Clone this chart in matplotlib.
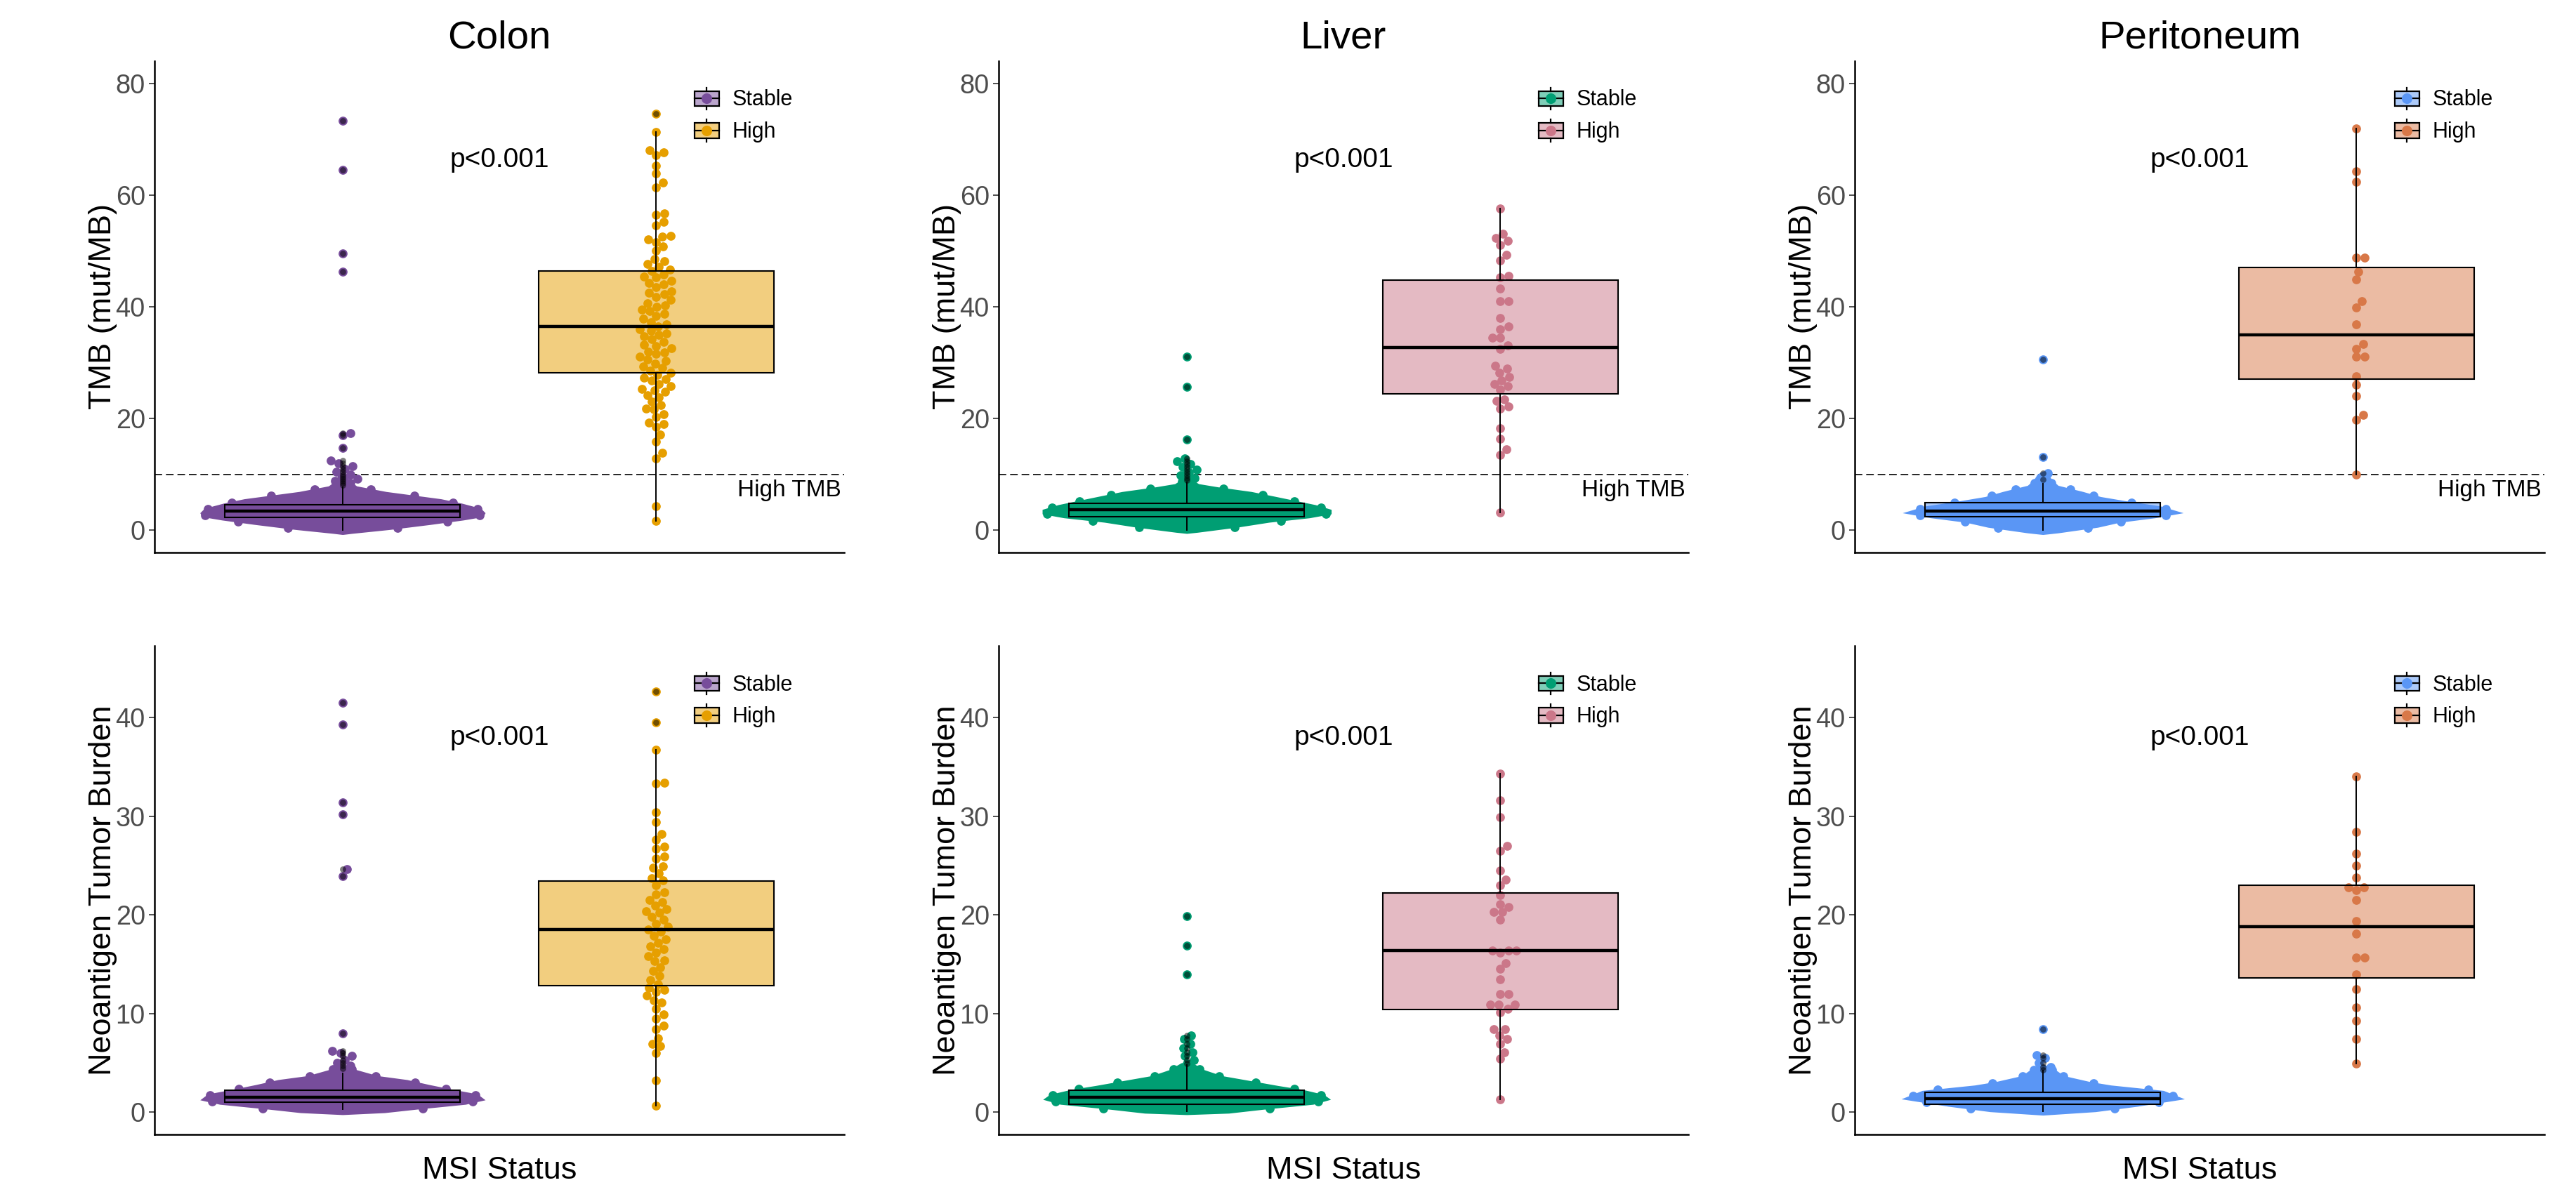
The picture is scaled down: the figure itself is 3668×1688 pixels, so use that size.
import numpy as np
import matplotlib
matplotlib.use("Agg")
import matplotlib.pyplot as plt
from matplotlib.colors import to_rgba
from matplotlib.patches import Patch, Rectangle
from matplotlib.lines import Line2D
from matplotlib.legend_handler import HandlerBase

plt.rcParams['font.family'] = ['Liberation Sans', 'DejaVu Sans']

sites = ['Colon', 'Liver', 'Peritoneum']
groups = ['Stable', 'High']
stable_colors = ['#774D9B', '#009E73', '#5A96F5']
high_colors = ['#E69F00', '#CB7789', '#D87848']

# ---- TMB (mut/MB) ----
# MSI stable: too many patients to read one by one, so the swarm outline is kept
# as value levels + half width (category units), plus box stats and outliers
colon_tmb_stable_levels = [10.3, 10.0, 9.0, 7.9, 6.9, 5.6, 4.8, 3.9, 3.1, 2.4, 1.8, 1.0, 0.1, -0.6, -0.8]
colon_tmb_stable_width = [0, .016, .018, .045, .139, .314, .381, .441, .455, .448, .385, .28, .15, .029, 0]
liver_tmb_stable_levels = [10.9, 10.5, 9.0, 8.3, 7.7, 6.9, 6.0, 5.2, 4.55, 3.7, 2.9, 2.2, 1.4, 0.5, -0.4, -0.6]
liver_tmb_stable_width = [0, .016, .018, .038, .103, .206, .285, .354, .41, .461, .461, .392, .262, .159, .034, 0]
perit_tmb_stable_levels = [10.6, 10.0, 9.0, 8.0, 6.9, 6.0, 5.2, 4.3, 3.1, 2.2, 1.4, 0.5, -0.5, -0.8]
perit_tmb_stable_width = [0, .018, .029, .049, .128, .184, .269, .376, .448, .358, .246, .175, .049, 0]

# q1, median, q3, whisker low, whisker high
colon_tmb_stable_box = [2.23, 3.41, 4.55, 0.0, 7.7]
liver_tmb_stable_box = [2.44, 3.7, 4.84, 0.0, 8.55]
perit_tmb_stable_box = [2.4, 3.41, 4.89, 0.0, 8.33]
colon_tmb_stable_out = [73.3, 64.5, 49.5, 46.3, 17.4, 17.0, 14.7, 12.4, 12.0, 11.5, 11.0, 10.5, 10.0, 9.6, 9.2, 8.8, 8.4, 8.1]
liver_tmb_stable_out = [31.0, 25.6, 16.2, 12.8, 12.3, 11.8, 11.3, 10.8, 10.3, 9.8, 9.3, 8.9]
perit_tmb_stable_out = [30.5, 13.1, 10.2, 9.1]

colon_tmb_high = [74.6, 71.3, 68.0, 67.6, 67.1, 65.3, 63.8, 62.2, 61.4, 56.7, 56.5, 55.2, 54.5, 52.7,
                  52.5, 52.0, 51.6, 50.8, 50.0, 48.5, 48.2, 47.7, 47.2, 46.7, 46.4, 45.7, 45.4, 45.2,
                  44.6, 44.2, 44.0, 43.5, 42.8, 42.5, 42.2, 41.8, 41.2, 40.6, 40.2, 40.0, 39.5, 39.2,
                  38.7, 38.3, 37.8, 37.2, 36.8, 36.5, 36.0, 35.7, 35.2, 35.0, 34.7, 34.2, 33.7, 33.2,
                  33.0, 32.6, 32.0, 31.8, 31.5, 31.0, 30.5, 30.3, 29.8, 29.3, 29.0, 28.5, 28.2, 27.8,
                  27.3, 27.0, 26.8, 26.2, 25.8, 25.3, 25.0, 24.8, 24.2, 23.8, 23.0, 22.4, 21.8, 21.6,
                  20.8, 20.2, 19.3, 19.0, 18.5, 17.1, 15.8, 13.8, 12.8, 4.3, 1.6]
liver_tmb_high = [57.6, 53.0, 52.3, 51.8, 51.1, 49.3, 48.3, 45.5, 45.3, 43.3, 41.0, 41.0, 38.0, 36.4,
                  36.0, 34.5, 34.5, 33.1, 32.4, 29.4, 28.9, 28.2, 27.4, 26.8, 26.1, 25.8, 25.1, 23.4,
                  23.1, 22.1, 21.8, 18.3, 16.3, 14.5, 13.5, 3.2]
perit_tmb_high = [71.9, 64.2, 62.3, 48.8, 48.8, 46.3, 44.9, 41.0, 39.9, 36.8, 33.3, 32.5, 31.0, 31.0,
                  27.5, 26.0, 24.0, 20.6, 19.8, 10.0]
colon_tmb_high_box = [28.2, 36.5, 46.4, 1.6, 71.3]
liver_tmb_high_box = [24.4, 32.7, 44.7, 3.2, 57.6]
perit_tmb_high_box = [27.1, 35.0, 47.0, 10.0, 71.9]
colon_tmb_high_out = [74.6]
liver_tmb_high_out = []
perit_tmb_high_out = []

# ---- Neoantigen tumor burden ----
colon_ntb_stable_levels = [4.9, 4.7, 4.3, 3.7, 3.3, 2.8, 2.3, 1.85, 1.25, 0.8, 0.3, -0.05, -0.25]
colon_ntb_stable_width = [0, .022, .045, .112, .206, .276, .354, .43, .455, .392, .235, .134, 0]
liver_ntb_stable_levels = [5.1, 5.0, 4.3, 3.7, 3.2, 2.7, 2.3, 1.8, 1.3, 0.8, 0.3, -0.1, -0.25]
liver_ntb_stable_width = [0, .018, .056, .112, .202, .291, .37, .437, .459, .403, .246, .134, 0]
perit_ntb_stable_levels = [4.9, 4.45, 3.7, 3.1, 2.75, 2.2, 1.35, 0.6, 0.05, -0.3]
perit_ntb_stable_width = [0, .034, .067, .15, .217, .385, .452, .302, .168, 0]

colon_ntb_stable_box = [1.02, 1.49, 2.2, 0.3, 3.97]
liver_ntb_stable_box = [0.78, 1.54, 2.23, 0.1, 4.78]
perit_ntb_stable_box = [0.78, 1.35, 2.0, 0.1, 4.2]
colon_ntb_stable_out = [41.5, 39.3, 31.4, 30.2, 24.6, 23.9, 8.0, 6.2, 6.0, 5.7, 5.3, 5.0, 4.7, 4.4]
liver_ntb_stable_out = [19.9, 16.9, 14.0, 7.8, 7.4, 6.9, 6.5, 6.1, 5.7, 5.3, 4.9]
perit_ntb_stable_out = [8.4, 5.8, 5.5, 5.0, 4.6, 4.3]

colon_ntb_high = [42.6, 39.5, 36.7, 33.4, 33.3, 30.4, 29.4, 28.2, 27.6, 26.9, 26.7, 25.9, 25.7, 24.9,
                  24.8, 24.2, 23.7, 23.5, 23.0, 22.3, 22.1, 21.5, 21.3, 20.9, 20.6, 20.4, 20.2, 19.8,
                  19.5, 19.1, 18.8, 18.5, 18.3, 17.9, 17.5, 17.2, 16.8, 16.5, 16.2, 15.8, 15.4, 15.3,
                  14.7, 14.3, 13.8, 13.4, 13.0, 12.6, 12.4, 12.2, 11.8, 11.3, 11.1, 10.5, 9.9, 9.5,
                  8.8, 8.4, 7.5, 6.9, 6.7, 6.0, 3.2, 0.7]
liver_ntb_high = [34.3, 31.6, 29.9, 27.0, 26.5, 24.5, 23.6, 23.0, 22.0, 21.1, 20.8, 20.3, 20.3, 19.5,
                  16.4, 16.4, 16.4, 16.2, 15.1, 14.5, 13.5, 12.0, 12.0, 10.9, 10.9, 10.9, 10.5, 10.1,
                  8.4, 8.4, 7.8, 7.4, 6.9, 6.1, 5.4, 1.3]
perit_ntb_high = [34.0, 28.4, 26.2, 25.0, 23.8, 22.8, 22.8, 22.5, 21.5, 19.4, 18.1, 15.7, 15.7, 14.0,
                  12.5, 10.6, 9.3, 7.4, 4.9]
colon_ntb_high_box = [12.8, 18.5, 23.4, 0.7, 36.7]
liver_ntb_high_box = [10.4, 16.4, 22.2, 1.3, 34.3]
perit_ntb_high_box = [13.6, 18.8, 23.0, 4.9, 34.0]
colon_ntb_high_out = [42.6, 39.5]
liver_ntb_high_out = []
perit_ntb_high_out = []

row_labels = ['TMB (mut/MB)', 'Neoantigen Tumor Burden']
row_ylim = [(-4, 84), (-2.25, 47.25)]
row_ticks = [[0, 20, 40, 60, 80], [0, 10, 20, 30, 40]]
pval_y = [66.2, 37.9]
high_tmb_cut = 10

rows = [
    dict(levels=[colon_tmb_stable_levels, liver_tmb_stable_levels, perit_tmb_stable_levels],
         width=[colon_tmb_stable_width, liver_tmb_stable_width, perit_tmb_stable_width],
         sbox=[colon_tmb_stable_box, liver_tmb_stable_box, perit_tmb_stable_box],
         sout=[colon_tmb_stable_out, liver_tmb_stable_out, perit_tmb_stable_out],
         high=[colon_tmb_high, liver_tmb_high, perit_tmb_high],
         hbox=[colon_tmb_high_box, liver_tmb_high_box, perit_tmb_high_box],
         hout=[colon_tmb_high_out, liver_tmb_high_out, perit_tmb_high_out]),
    dict(levels=[colon_ntb_stable_levels, liver_ntb_stable_levels, perit_ntb_stable_levels],
         width=[colon_ntb_stable_width, liver_ntb_stable_width, perit_ntb_stable_width],
         sbox=[colon_ntb_stable_box, liver_ntb_stable_box, perit_ntb_stable_box],
         sout=[colon_ntb_stable_out, liver_ntb_stable_out, perit_ntb_stable_out],
         high=[colon_ntb_high, liver_ntb_high, perit_ntb_high],
         hbox=[colon_ntb_high_box, liver_ntb_high_box, perit_ntb_high_box],
         hout=[colon_ntb_high_out, liver_ntb_high_out, perit_ntb_high_out]),
]

DPI = 200
PT_S = 21      # swarm point size (pt^2)
DIAM = 11.5    # swarm spacing in px
PPU_X = 446.4  # px per category unit


def swarm_offsets(values, ppu_y, diam=DIAM):
    # simple beeswarm: closest free spot to the centre, in pixel space
    vals = np.asarray(values, float)
    xs = np.zeros(len(vals))
    steps = np.arange(1, 400) * 0.5
    cands = np.concatenate([[0.0], np.column_stack([steps, -steps]).ravel()])
    px, py = [], []
    for i in np.argsort(vals):
        y = vals[i] * ppu_y
        ax_ = np.array(px)
        ay_ = np.array(py)
        near = np.abs(ay_ - y) < diam if len(ay_) else np.zeros(0, bool)
        nx, ny = ax_[near], ay_[near]
        c = 0.0
        for c in cands:
            if np.all((nx - c) ** 2 + (ny - y) ** 2 >= diam ** 2):
                break
        xs[i] = c
        px.append(c)
        py.append(y)
    return xs / PPU_X


class BoxKey(HandlerBase):
    def create_artists(self, legend, orig_handle, xdescent, ydescent, width, height, fontsize, trans):
        c = orig_handle.get_facecolor()
        x0, y0 = -xdescent, -ydescent
        bh = height * 0.68
        by = y0 + (height - bh) / 2
        xm = x0 + width / 2
        rect = Rectangle((x0, by), width, bh, facecolor=(c[0], c[1], c[2], 0.5),
                         edgecolor='black', lw=0.8, transform=trans)
        w1 = Line2D([xm, xm], [y0, by], color='black', lw=0.8, transform=trans)
        w2 = Line2D([xm, xm], [by + bh, y0 + height], color='black', lw=0.8, transform=trans)
        med = Line2D([x0, x0 + width], [y0 + height / 2] * 2, color='black', lw=0.8, transform=trans)
        pt = Line2D([xm], [y0 + height / 2], marker='o', ms=4.4, lw=0,
                    color=(c[0], c[1], c[2], 1), transform=trans)
        return [rect, w1, w2, med, pt]


fig = plt.figure(figsize=(3668 / DPI, 1688 / DPI), dpi=DPI)
lefts = [220, 1422, 2641]
row_box = [(86.7, 787), (920, 1616)]

for r, rd in enumerate(rows):
    top, bot = row_box[r]
    ylo, yhi = row_ylim[r]
    ppu_y = (bot - top) / (yhi - ylo)
    for s, site in enumerate(sites):
        ax = fig.add_axes([lefts[s] / 3668, 1 - bot / 1688, 982 / 3668, (bot - top) / 1688])
        sc, hc = stable_colors[s], high_colors[s]

        if r == 0:
            ax.axhline(high_tmb_cut, color='black', lw=0.6, ls=(0, (6.5, 3.3)), zorder=1)
            ax.text(2.59, 7.1, 'High TMB', ha='right', va='center', fontsize=12)

        # stable swarm outline, with round points along the rim
        lv = np.array(rd['levels'][s])
        hw = np.array(rd['width'][s])
        ax.fill_betweenx(lv, 1 - hw, 1 + hw, color=sc, lw=0, zorder=2)
        rad = DIAM / 2 / PPU_X
        ys = np.arange(lv.min(), lv.max(), 0.8 * DIAM / ppu_y)
        ws = np.interp(ys, lv[::-1], hw[::-1]) - rad
        keep = ws > rad
        ax.scatter(np.r_[1 - ws[keep], 1 + ws[keep]], np.r_[ys[keep], ys[keep]],
                   s=PT_S, color=sc, lw=0, zorder=2.1)
        so = rd['sout'][s]
        ax.scatter(1 + swarm_offsets(so, ppu_y), so, s=PT_S, color=sc, lw=0, zorder=2.2)

        # high swarm
        hv = rd['high'][s]
        ax.scatter(2 + swarm_offsets(hv, ppu_y), hv, s=PT_S, color=hc, lw=0, zorder=2.2)

        # boxplots on top, half transparent
        for pos, box, col, outs in [(1, rd['sbox'][s], sc, so), (2, rd['hbox'][s], hc, rd['hout'][s])]:
            q1, med, q3, lo, hi = box
            ax.bxp([dict(q1=q1, med=med, q3=q3, whislo=lo, whishi=hi, fliers=[])],
                   positions=[pos], widths=0.75, patch_artist=True, showfliers=False,
                   showcaps=False, zorder=3,
                   boxprops=dict(facecolor=to_rgba(col, 0.5), edgecolor='black', linewidth=0.75),
                   medianprops=dict(color='black', linewidth=1.6),
                   whiskerprops=dict(color='black', linewidth=0.7))
            if len(outs):
                ax.scatter([pos] * len(outs), outs, s=10, color='black', alpha=0.5, lw=0, zorder=4)

        ax.text(1.5, pval_y[r], 'p<0.001', ha='center', va='center', fontsize=14)

        ax.set_xlim(0.4, 2.6)
        ax.set_ylim(ylo, yhi)
        ax.set_xticks([])
        ax.set_yticks(row_ticks[r])
        ax.tick_params(axis='y', labelsize=13.7, labelcolor='#4D4D4D', color='#333333',
                       length=2.75, width=0.6, pad=2)
        for sp in ['top', 'right']:
            ax.spines[sp].set_visible(False)
        for sp in ['left', 'bottom']:
            ax.spines[sp].set_linewidth(0.9)
            ax.spines[sp].set_color('black')
        ax.set_ylabel(row_labels[r], fontsize=16.2, labelpad=-1)
        if r == 0:
            ax.set_title(site, fontsize=20.3, pad=6.5)
        else:
            ax.set_xlabel('MSI Status', fontsize=16.2, labelpad=11)

        handles = [Patch(facecolor=sc), Patch(facecolor=hc)]
        ax.legend(handles, groups, handler_map={Patch: BoxKey()}, loc='upper left',
                  bbox_to_anchor=(0.783, 0.946), frameon=False, fontsize=11,
                  handlelength=1.15, handleheight=1.2, handletextpad=0.6,
                  labelspacing=0.42, borderpad=0, borderaxespad=0)

fig.savefig('out.png', dpi=DPI)
